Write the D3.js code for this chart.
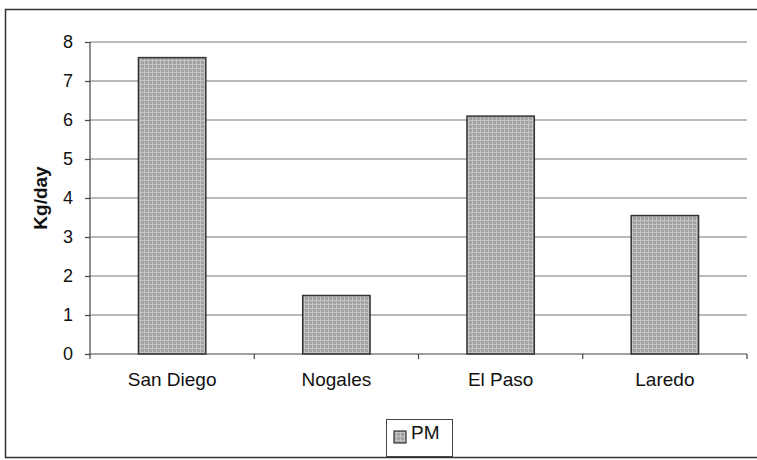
<!DOCTYPE html>
<html lang="en">
<head>
<meta charset="UTF-8">
<title>PM by crossing</title>
<script src="https://d3js.org/d3.v7.min.js"></script>
<style>
  body { margin: 0; background: #fff; }
  text { font-family: "Liberation Sans", Arial, sans-serif; fill: #111; }
</style>
</head>
<body>
<script>
    let width = 757;
    let height = 460;

    // data
    let cities = ["San Diego", "Nogales", "El Paso", "Laredo"];
    let pm = [7.6, 1.5, 6.1, 3.55];
    let yTicks = [0, 1, 2, 3, 4, 5, 6, 7, 8];

    let svg = d3.select("body")
        .append("svg")
        .attr("width", width)
        .attr("height", height);

    // grey cross-hatch like the print
    let defs = svg.append("defs");
    let pat = defs.append("pattern")
        .attr("id", "hatch")
        .attr("patternUnits", "userSpaceOnUse")
        .attr("width", 4)
        .attr("height", 4);
    pat.append("rect").attr("width", 4).attr("height", 4).attr("fill", "#a2a2a2");
    pat.append("path").attr("d", "M0,0.5H4M0.5,0V4")
        .attr("stroke", "#c4c4c4").attr("stroke-width", 1);

    // outer frame
    svg.append("rect")
        .attr("x", 5.5).attr("y", 9.5)
        .attr("width", 760).attr("height", 448)
        .attr("fill", "none")
        .attr("stroke", "#333")
        .attr("stroke-width", 1.5);

    let plotL = 90, plotR = 747, plotT = 42, plotB = 354;

    let x = d3.scaleBand()
        .domain(cities)
        .range([plotL, plotR])
        .paddingInner(0.59)
        .paddingOuter(0.295);

    let y = d3.scaleLinear()
        .domain([0, 8])
        .range([plotB, plotT]);

    // gridlines
    svg.append("g")
        .selectAll("line")
        .data(yTicks.filter(d => d > 0))
        .enter()
        .append("line")
        .attr("x1", plotL).attr("x2", plotR)
        .attr("y1", d => y(d)).attr("y2", d => y(d))
        .style("stroke", "#777")
        .style("stroke-width", 1.2);

    // bars
    svg.append("g")
        .selectAll("rect")
        .data(pm)
        .enter()
        .append("rect")
        .attr("x", (d, i) => x(cities[i]))
        .attr("y", d => y(d))
        .attr("width", x.bandwidth())
        .attr("height", d => plotB - y(d))
        .attr("fill", "url(#hatch)")
        .attr("stroke", "#333")
        .attr("stroke-width", 1.5);

    // y axis
    let yAxis = svg.append("g")
        .attr("transform", `translate(${plotL},0)`)
        .call(d3.axisLeft(y).tickValues(yTicks).tickSize(5).tickPadding(12));
    yAxis.selectAll("text").style("font-size", "18px");
    yAxis.selectAll("path,line").style("stroke", "#444").style("stroke-width", 1.2);
    yAxis.select(".domain").attr("d", `M0,${plotT}V${plotB}`);

    // x axis with ticks on category boundaries
    let xg = svg.append("g").attr("transform", `translate(0,${plotB})`);
    xg.append("line")
        .attr("x1", plotL).attr("x2", plotR)
        .style("stroke", "#444").style("stroke-width", 1.2);
    let step = x.step();
    xg.selectAll("line.tk")
        .data(d3.range(cities.length + 1))
        .enter()
        .append("line")
        .attr("class", "tk")
        .attr("x1", i => plotL + i * step).attr("x2", i => plotL + i * step)
        .attr("y1", 0).attr("y2", 5)
        .style("stroke", "#444").style("stroke-width", 1.2);
    xg.selectAll("text")
        .data(cities)
        .enter()
        .append("text")
        .attr("x", d => x(d) + x.bandwidth() / 2)
        .attr("y", 32)
        .attr("text-anchor", "middle")
        .style("font-size", "19px")
        .text(d => d);

    // y label
    svg.append("text")
        .attr("transform", "translate(47,198) rotate(-90)")
        .attr("text-anchor", "middle")
        .style("font-size", "19px")
        .style("font-weight", "bold")
        .text("Kg/day");

    // legend
    let lg = svg.append("g");
    lg.append("rect")
        .attr("x", 386.5).attr("y", 419.5)
        .attr("width", 66).attr("height", 37)
        .attr("fill", "#fff").attr("stroke", "#444").attr("stroke-width", 1);
    lg.append("rect")
        .attr("x", 394).attr("y", 431)
        .attr("width", 12).attr("height", 12)
        .attr("fill", "url(#hatch)").attr("stroke", "#333").attr("stroke-width", 1.2);
    lg.append("text")
        .attr("x", 411).attr("y", 439)
        .style("font-size", "19px")
        .text("PM");
</script>
</body>
</html>
